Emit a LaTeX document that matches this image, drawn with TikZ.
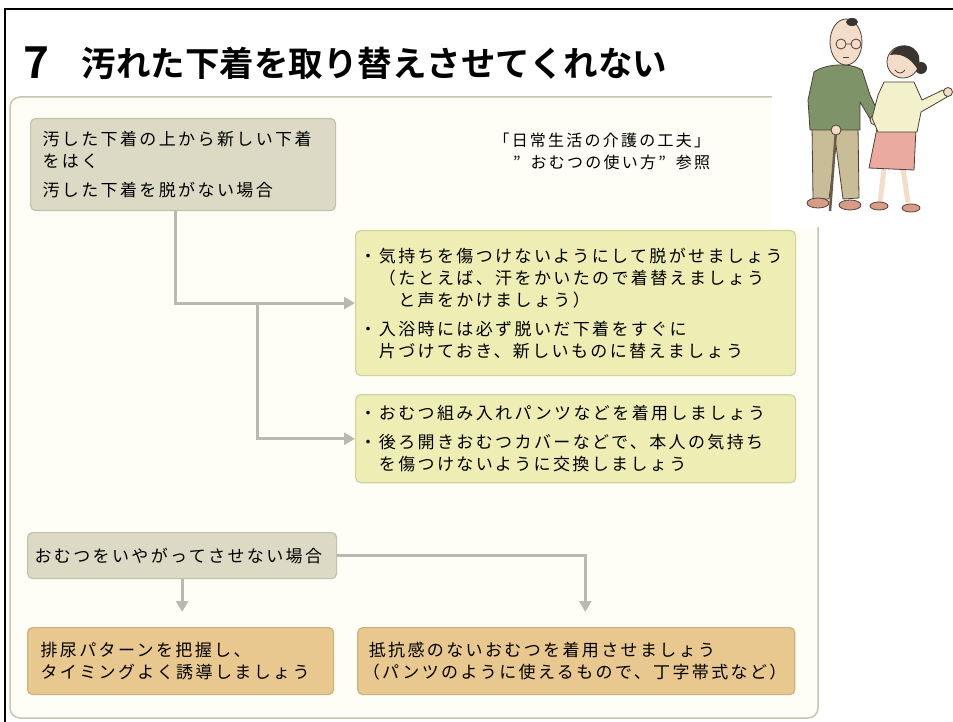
\documentclass[tikz,border=0pt]{standalone}
\usepackage{fontspec}
\usetikzlibrary{arrows.meta, positioning}
\newfontfamily\jpfont[LetterSpace=14]{Noto Sans CJK JP}
\newfontfamily\jpbold{Noto Sans CJK JP Bold}
\newcommand\bodyfont{\jpfont\fontsize{17pt}{22pt}\selectfont}
\newcommand\notefont{\jpfont\fontsize{16pt}{22pt}\selectfont}
\definecolor{ckhaki}{HTML}{DCDAC4}
\definecolor{clime}{HTML}{EEEDB4}
\definecolor{ctan}{HTML}{E8C88E}
\definecolor{cline}{HTML}{B9B9B2}
\definecolor{cpanel}{HTML}{FEFEF6}
\definecolor{cedge}{HTML}{C8C5B2}
% colours of the two figures
\definecolor{cink}{HTML}{4A4038}
\definecolor{cskin}{HTML}{F4DDC8}
\definecolor{chair}{HTML}{3A3430}
\definecolor{csweater}{HTML}{7E9468}
\definecolor{cpants}{HTML}{C9BD98}
\definecolor{ccream}{HTML}{F3F0CC}
\definecolor{cpink}{HTML}{EBAAA0}
\definecolor{csandal}{HTML}{D99C86}
\definecolor{ccane}{HTML}{6B5A48}
\tikzset{
  every picture/.style={line width=1pt},
  box/.style={draw=#1!88!black, fill=#1, line width=1.2pt, rounded corners=5pt,
    align=left, inner xsep=10pt, inner ysep=0pt, anchor=north west, font=\bodyfont},
  box/.default=ckhaki,
  arrow/.style={-{Triangle[length=11pt, width=12pt]}, draw=cline, line width=3pt},
  title/.style={font=\jpbold\fontsize{34.5pt}{34.5pt}\selectfont, anchor=base west},
  note/.style={font=\notefont, align=right, anchor=east},
}
\begin{document}
\begin{tikzpicture}[x=1pt, y=-1pt]
  \useasboundingbox (0,0) rectangle (953,722);
  \fill[white] (0,0) rectangle (953,722);
  \draw[line width=2.5pt] (5,9) rectangle (970,740);

  \node[title, font=\jpbold\fontsize{44pt}{44pt}\selectfont] (num) at (20,79) {7};
  \node[title] (head) at (78,77) {汚れた下着を取り替えさせてくれない};

  % light panel behind the chart
  \draw[cedge, fill=cpanel, line width=1.5pt, rounded corners=10pt] (10,97) rectangle (818,718);

  \node[box=ckhaki, inner xsep=12pt, text width=281pt, minimum height=92pt] (bA) at (30,118)
    {汚した下着の上から新しい下着\\をはく\\[7pt]汚した下着を脱がない場合};
  \node[note] (ref) at (714,151) {「日常生活の介護の工夫」\\”\hspace{10pt}おむつの使い方”\hspace{10pt}参照};
  \node[box=clime, inner xsep=4pt, text width=432pt, minimum height=145pt] (bB) at (355,230)
    {・気持ちを傷つけないようにして脱がせましょう\\　（たとえば、汗をかいたので着替えましょう\\　　と声をかけましょう）\\[7pt]%
     ・入浴時には必ず脱いだ下着をすぐに\\　片づけておき、新しいものに替えましょう};
  \node[box=clime, inner xsep=4pt, text width=432pt, minimum height=88pt,
    below right=18pt and 0pt of bB.south west] (bC)
    {・おむつ組み入れパンツなどを着用しましょう\\[7pt]・後ろ開きおむつカバーなどで、本人の気持ち\\　を傷つけないように交換しましょう};

  \node[box=ckhaki, inner xsep=7pt, text width=295pt, minimum height=46pt] (bD) at (27,532)
    {おむつをいやがってさせない場合};
  \node[box=ctan, inner xsep=13pt, text width=280pt, minimum height=67pt] (bE) at (27,627)
    {排尿パターンを把握し、\\タイミングよく誘導しましょう};
  \node[box=ctan, inner xsep=5pt, text width=427pt, minimum height=67pt,
    right=23pt of bE.north east, anchor=north west] (bF)
    {\hspace{6pt}抵抗感のないおむつを着用させましょう\\（パンツのように使えるもので、丁字帯式など）};

  % connectors
  \path (bB.west) ++(-98,0) coordinate (fork);
  \draw[arrow] ([xshift=-8pt]bA.south) |- (bB.west);
  \draw[arrow] (fork) |- (bC.west);
  \draw[arrow, shorten >=15pt] (bD.south) -- (bD.south |- bE.north);
  \draw[arrow, shorten >=15pt] (bD.east) -| ([xshift=9pt]bF.north);

  % couple walking, top right
  \fill[white] (772,11) rectangle (953,227);
  \begin{scope}[draw=cink, line width=0.8pt, line join=round]
    \filldraw[fill=cpants] (812,126) -- (858,126) -- (859,198) -- (843,199) -- (836,145)
      -- (829,199) -- (813,199) -- cycle;
    \filldraw[fill=csweater] (814,72) .. controls (825,64) and (850,62) .. (862,70)
      -- (870,95) -- (880,116) -- (872,122) -- (860,102) -- (860,130) -- (810,130)
      -- (808,100) -- cycle;
    \filldraw[fill=cskin] (846,42) ellipse (16 and 23);
    \fill[chair] (852,22) ellipse (6 and 4);
    \draw (841,44) circle (5) (856,44) circle (5) (846,44) -- (851,44);
    \draw (843,57) -- (849,57);
    \filldraw[fill=cskin] (875,120) circle (5);
    \draw[ccane, line width=2.5pt] (836,130) -- (830,211);
    \filldraw[fill=cskin] (836,130) circle (5);
    \filldraw[fill=csandal] (818,203) ellipse (11 and 5);
    \filldraw[fill=csandal] (850,205) ellipse (11 and 5);

    \draw[cskin, line width=5pt] (884,168) -- (880,203) (903,168) -- (908,203);
    \filldraw[fill=cpink] (877,128) -- (916,128) -- (914,170) -- (869,168) -- cycle;
    \filldraw[fill=ccream] (884,82) -- (914,82) -- (922,100) -- (943,90) -- (947,97)
      -- (921,112) -- (917,132) -- (878,132) -- (872,118) -- (878,95) -- cycle;
    \fill[chair] (921,68) circle (6);
    \filldraw[fill=cskin] (903,62) circle (16);
    \fill[chair] (890,55) .. controls (896,42) and (914,42) .. (919,56) -- (919,72)
      .. controls (914,62) and (904,52) .. cycle;
    \draw (895,70) .. controls (898,74) and (902,74) .. (905,70);
    \filldraw[fill=cskin] (948,92) circle (4.5);
    \filldraw[fill=csandal] (879,206) ellipse (9 and 4);
    \filldraw[fill=csandal] (911,208) ellipse (9 and 4);
  \end{scope}
\end{tikzpicture}
\end{document}
